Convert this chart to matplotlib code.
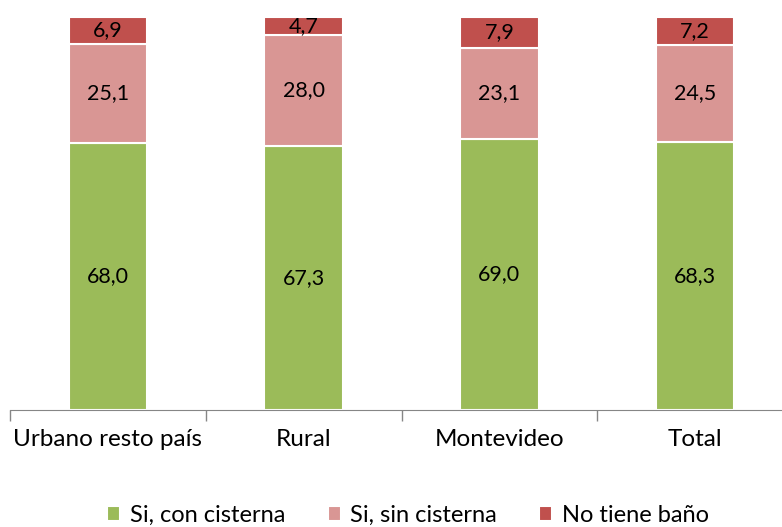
import matplotlib.pyplot as plt
import numpy as np

categorias = ['Urbano resto país', 'Rural', 'Montevideo', 'Total']
con_cisterna = [68.0, 67.3, 69.0, 68.3]
sin_cisterna = [25.1, 28.0, 23.1, 24.5]
no_tiene = [6.9, 4.7, 7.9, 7.2]

series = [
    ('Si, con cisterna', con_cisterna, '#9BBB59'),
    ('Si, sin cisterna', sin_cisterna, '#D99694'),
    ('No tiene baño', no_tiene, '#C0504D'),
]

plt.rcParams['font.family'] = ['Lato', 'DejaVu Sans']

fig = plt.figure(figsize=(7.82, 5.27), dpi=100)
ax = fig.add_axes([10 / 782, 117 / 527, 783 / 782, 393 / 527])

x = np.arange(len(categorias))
base = np.zeros(len(categorias))
for nombre, vals, color in series:
    bars = ax.bar(x, vals, width=0.4, bottom=base, color=color,
                  edgecolor='white', linewidth=1.5, label=nombre)
    for b, v in zip(bars, vals):
        ax.text(b.get_x() + b.get_width() / 2, b.get_y() + b.get_height() / 2,
                f'{v:.1f}'.replace('.', ','), ha='center', va='center',
                fontsize=15.5, color='black')
    base += np.array(vals)

ax.set_xlim(-0.5, len(categorias) - 0.5)
ax.set_ylim(0, 100)
ax.set_yticks([])
ax.set_xticks(x)
ax.set_xticklabels(categorias, fontsize=17.5)
ax.set_xticks(np.arange(-0.5, len(categorias)), minor=True)
ax.tick_params(axis='x', which='major', length=0, pad=14)
ax.tick_params(axis='x', which='minor', length=8, color='#868686', width=1)
for s in ['top', 'right', 'left']:
    ax.spines[s].set_visible(False)
ax.spines['bottom'].set_color('#868686')

fig.legend(loc='center', bbox_to_anchor=(0.522, 0.022), ncol=3, frameon=False,
           fontsize=17, handlelength=0.55, handleheight=0.55,
           handletextpad=0.4, columnspacing=1.8, borderpad=0)

plt.savefig('out.png', dpi=100)
